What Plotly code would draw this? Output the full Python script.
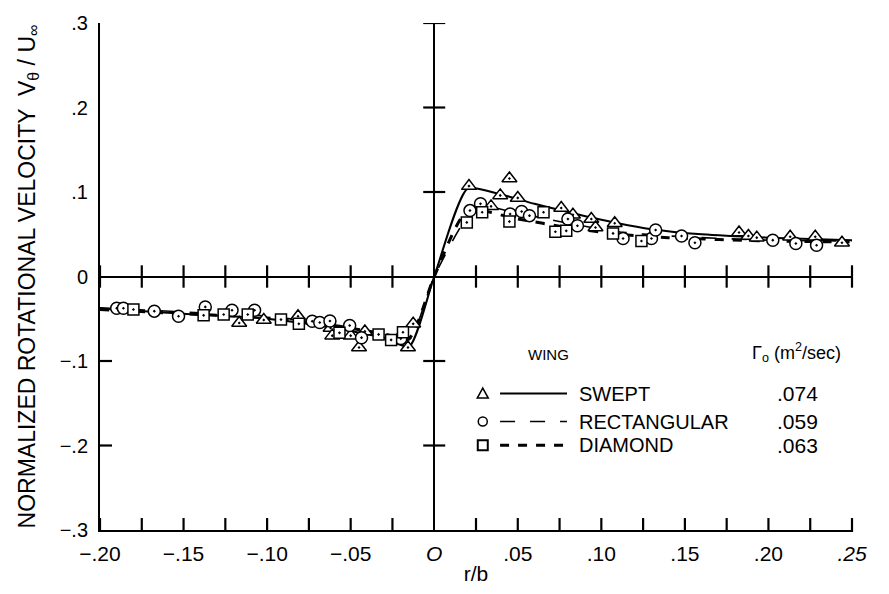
import plotly.graph_objects as go

# ---------------- data ----------------
swept_x = [0.0208, 0.045, 0.0395, 0.050, 0.034, 0.076, 0.083, 0.094, 0.0965, 0.108,
           0.1824, 0.188, 0.193, 0.213, 0.228, 0.244,
           -0.1167, -0.102, -0.0815, -0.062, -0.061, -0.050, -0.0415, -0.045, -0.0126, -0.0157]
swept_y = [0.107, 0.116, 0.096, 0.093, 0.083, 0.081, 0.073, 0.068, 0.058, 0.063,
           0.052, 0.048, 0.046, 0.047, 0.047, 0.040,
           -0.055, -0.0515, -0.047, -0.061, -0.070, -0.070, -0.065, -0.084, -0.056, -0.084]

rect_x = [0.0214, 0.0277, 0.0454, 0.0523, 0.057, 0.080, 0.0857, 0.113, 0.130, 0.1325,
          0.148, 0.156, 0.2026, 0.2164, 0.2288,
          -0.190, -0.186, -0.1675, -0.153, -0.137, -0.121, -0.1075, -0.073, -0.0685,
          -0.0624, -0.0506, -0.0435, -0.020]
rect_y = [0.078, 0.086, 0.074, 0.077, 0.072, 0.068, 0.060, 0.045, 0.045, 0.055,
          0.048, 0.040, 0.043, 0.039, 0.037,
          -0.0375, -0.0375, -0.041, -0.047, -0.036, -0.040, -0.040, -0.053, -0.0545,
          -0.0526, -0.058, -0.0724, -0.0735]

diam_x = [0.0195, 0.0287, 0.045, 0.0654, 0.0725, 0.079, 0.107, 0.124,
          -0.180, -0.138, -0.126, -0.1116, -0.0917, -0.081, -0.0567, -0.0333, -0.0258, -0.0187]
diam_y = [0.064, 0.076, 0.065, 0.076, 0.053, 0.054, 0.051, 0.042,
          -0.039, -0.046, -0.045, -0.045, -0.051, -0.056, -0.0667, -0.0685, -0.075, -0.066]

swept_line_x = [-0.20, -0.15, -0.10, -0.06, -0.03, -0.015, 0.0, 0.020, 0.040, 0.060, 0.085, 0.110, 0.130, 0.160, 0.200, 0.250]
swept_line_y = [-0.038, -0.044, -0.050, -0.061, -0.073, -0.083, 0.0, 0.104, 0.097, 0.086, 0.074, 0.063, 0.056, 0.050, 0.046, 0.043]

rect_line_x = [-0.20, -0.15, -0.10, -0.06, -0.03, -0.015, 0.0, 0.025, 0.050, 0.080, 0.110, 0.140, 0.200, 0.250]
rect_line_y = [-0.037, -0.042, -0.047, -0.057, -0.068, -0.075, 0.0, 0.082, 0.075, 0.063, 0.053, 0.048, 0.043, 0.042]

diam_line_x = [-0.20, -0.15, -0.10, -0.06, -0.03, -0.015, 0.0, 0.020, 0.050, 0.080, 0.110, 0.140, 0.200, 0.250]
diam_line_y = [-0.039, -0.044, -0.049, -0.058, -0.068, -0.073, 0.0, 0.078, 0.068, 0.058, 0.050, 0.046, 0.042, 0.041]

x_tick_vals = [-0.20, -0.15, -0.10, -0.05, 0.0, 0.05, 0.10, 0.15, 0.20, 0.25]
x_tick_text = ["\u2212.20", "\u2212.15", "\u2212.10", "\u2212.05", "<i>O</i>",
               ".05", ".10", ".15", ".20", "<i>.25</i>"]
x_all_ticks = [-0.20, -0.175, -0.15, -0.125, -0.10, -0.075, -0.05, -0.025,
               0.025, 0.05, 0.075, 0.10, 0.125, 0.15, 0.175, 0.20, 0.225, 0.25]
y_tick_vals = [-0.3, -0.2, -0.1, 0.0, 0.1, 0.2, 0.3]
y_tick_text = ["\u2212.3", "\u2212.2", "\u2212.1", "0", ".1", ".2", ".3"]
center_y_ticks = [-0.2, -0.1, 0.1, 0.2, 0.3]
left_y_ticks = [-0.2, -0.1]

wing_names = ["SWEPT", "RECTANGULAR", "DIAMOND"]
gamma_values = [".074", ".059", ".063"]

# ---------------- layout geometry / styles ----------------
W, H = 889, 594
M = dict(l=100, r=37, t=22, b=62)
X_RANGE = [-0.2, 0.25]
Y_RANGE = [-0.3, 0.3]
PX_X = (X_RANGE[1] - X_RANGE[0]) / (W - M["l"] - M["r"])   # data units per pixel
PX_Y = (Y_RANGE[1] - Y_RANGE[0]) / (H - M["t"] - M["b"])

FONT = "Liberation Sans"
line_styles = [dict(color="black", width=2, dash="solid"),
               dict(color="black", width=1.6, dash="longdash"),
               dict(color="black", width=3, dash="dash")]
marker_styles = [dict(symbol="triangle-up-dot", size=13, color="white", line=dict(color="black", width=1.5)),
                 dict(symbol="circle-dot", size=12, color="white", line=dict(color="black", width=1.5)),
                 dict(symbol="square-dot", size=11, color="white", line=dict(color="black", width=1.5))]

fig = go.Figure()

# horizontal tick marks (on the central and left vertical axes) as a line trace
tick_x, tick_y = [], []
for yv in center_y_ticks:
    tick_x += [-11 * PX_X, 11 * PX_X, None]
    tick_y += [yv, yv, None]
for yv in left_y_ticks:
    tick_x += [X_RANGE[0], X_RANGE[0] + 12 * PX_X, None]
    tick_y += [yv, yv, None]
fig.add_trace(go.Scatter(x=tick_x, y=tick_y, mode="lines", line=dict(color="black", width=2.2, simplify=False),
                         hoverinfo="skip", connectgaps=False, cliponaxis=False))
# vertical tick marks (crossing the y=0 axis, and inward on the bottom frame) as line-ns markers
fig.add_trace(go.Scatter(x=x_all_ticks, y=[0.0] * len(x_all_ticks), mode="markers",
                         marker=dict(symbol="line-ns", size=16, line=dict(color="black", width=2.2)),
                         hoverinfo="skip", cliponaxis=False))
fig.add_trace(go.Scatter(x=x_all_ticks, y=[Y_RANGE[0] + 5 * PX_Y] * len(x_all_ticks), mode="markers",
                         marker=dict(symbol="line-ns", size=10, line=dict(color="black", width=2.2)),
                         hoverinfo="skip", cliponaxis=False))

lines = [(swept_line_x, swept_line_y), (rect_line_x, rect_line_y), (diam_line_x, diam_line_y)]
points = [(swept_x, swept_y), (rect_x, rect_y), (diam_x, diam_y)]

for (lx, ly), ls in zip(lines, line_styles):
    fig.add_trace(go.Scatter(x=lx, y=ly, mode="lines", line=dict(shape="spline", smoothing=0.6, **ls),
                             hoverinfo="skip"))
for (px, py), ms in zip(points, marker_styles):
    fig.add_trace(go.Scatter(x=px, y=py, mode="markers", marker=ms, cliponaxis=False))

# ---------------- legend (shapes + annotations in paper coordinates) ----------------
leg_rows_y = [0.269, 0.214, 0.167]
leg_sym_x = 0.509
leg_line_x = [0.532, 0.621]
SYM = dict(color="black", width=1.5)
fig.add_shape(type="path", xref="paper", yref="paper", xsizemode="pixel", ysizemode="pixel",
              xanchor=leg_sym_x, yanchor=leg_rows_y[0], path="M -5.5 -4.5 L 5.5 -4.5 L 0 5.5 Z",
              line=SYM, fillcolor="white")
fig.add_shape(type="circle", xref="paper", yref="paper", xsizemode="pixel", ysizemode="pixel",
              xanchor=leg_sym_x, yanchor=leg_rows_y[1], x0=-4.5, x1=4.5, y0=-4.5, y1=4.5,
              line=SYM, fillcolor="white")
fig.add_shape(type="rect", xref="paper", yref="paper", xsizemode="pixel", ysizemode="pixel",
              xanchor=leg_sym_x, yanchor=leg_rows_y[2], x0=-5, x1=5, y0=-5, y1=5,
              line=dict(color="black", width=2), fillcolor="white")
for i in range(3):
    fig.add_shape(type="line", xref="paper", yref="paper", x0=leg_line_x[0], x1=leg_line_x[1],
                  y0=leg_rows_y[i], y1=leg_rows_y[i], line=line_styles[i])
    fig.add_annotation(x=0.634, y=leg_rows_y[i], xref="paper", yref="paper", text=wing_names[i],
                       showarrow=False, xanchor="left", yanchor="middle", font=dict(size=20))
    fig.add_annotation(x=0.898, y=leg_rows_y[i], xref="paper", yref="paper", text=gamma_values[i],
                       showarrow=False, xanchor="left", yanchor="middle", font=dict(size=21))

fig.add_annotation(x=0.596, y=0.347, xref="paper", yref="paper", text="WING", showarrow=False,
                   xanchor="center", yanchor="middle", font=dict(size=15))
fig.add_annotation(x=0.865, y=0.350, xref="paper", yref="paper",
                   text="\u0393<sub>o</sub> (m<sup>2</sup>/sec)", showarrow=False,
                   xanchor="left", yanchor="middle", font=dict(size=18))

fig.update_layout(
    width=W, height=H,
    margin=M,
    paper_bgcolor="white", plot_bgcolor="white",
    showlegend=False,
    font=dict(family=FONT, color="black", size=20),
    xaxis=dict(range=X_RANGE, showgrid=False, fixedrange=True,
               tickvals=x_tick_vals, ticktext=x_tick_text, ticks="",
               showline=True, linecolor="black", linewidth=2,
               zeroline=True, zerolinecolor="black", zerolinewidth=2,
               tickfont=dict(size=21), ticklabelstandoff=4,
               title=dict(text="r/b", standoff=2, font=dict(size=21))),
    yaxis=dict(range=Y_RANGE, showgrid=False, fixedrange=True,
               tickvals=y_tick_vals, ticktext=y_tick_text, ticks="",
               showline=True, linecolor="black", linewidth=2,
               zeroline=True, zerolinecolor="black", zerolinewidth=2,
               tickfont=dict(size=20), ticklabelstandoff=6,
               title=dict(text="NORMALIZED ROTATIONAL VELOCITY  V<sub>\u03b8</sub> / U<sub>\u221e</sub>",
                          standoff=18, font=dict(size=23))),
)

fig.write_html("out.html")
